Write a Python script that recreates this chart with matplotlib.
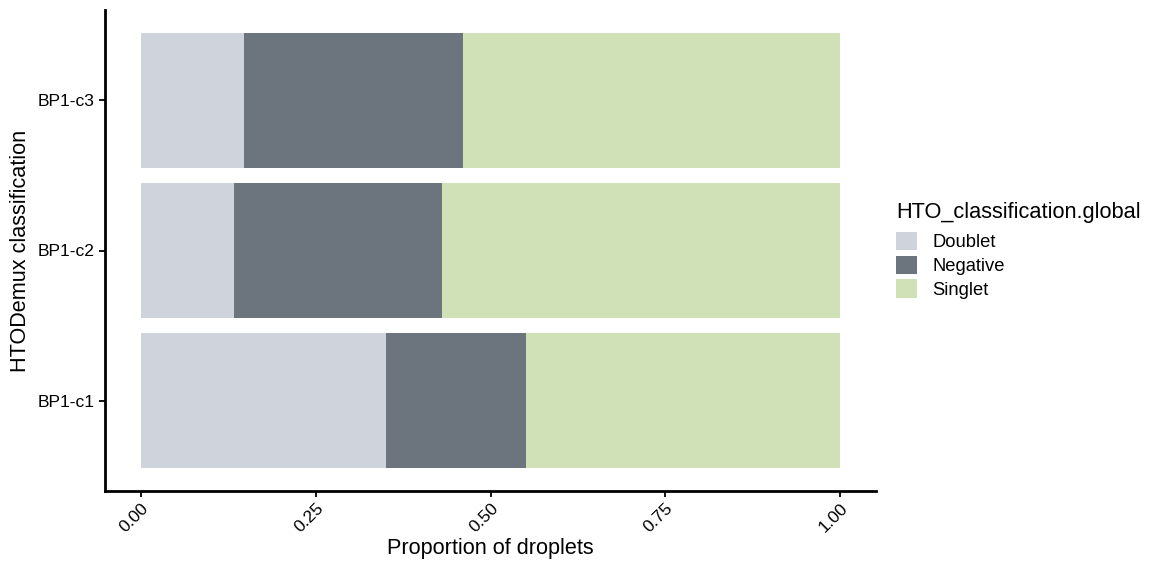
import matplotlib.pyplot as plt
import numpy as np
from matplotlib.patches import Patch

plt.rcParams['font.family'] = ['Liberation Sans', 'DejaVu Sans']

samples = ["BP1-c1", "BP1-c2", "BP1-c3"]
classes = ["Doublet", "Negative", "Singlet"]
doublet = [0.351, 0.133, 0.147]
negative = [0.200, 0.297, 0.314]
singlet = [0.449, 0.570, 0.539]
colors = ["#CFD3DB", "#6C747E", "#D0E1B8"]


def main():
    data = np.array([doublet, negative, singlet])
    fig = plt.figure(figsize=(11.52, 5.76), dpi=100)
    ax = fig.add_axes([105 / 1152, 1 - 491 / 576, 771 / 1152, 481 / 576])

    y = np.arange(1, len(samples) + 1)
    left = np.zeros(len(samples))
    for i, name in enumerate(classes):
        ax.barh(y, data[i], left=left, height=0.9, color=colors[i], label=name)
        left += data[i]

    ax.set_xlim(-0.0514, 1.0514)
    ax.set_ylim(0.4, 3.6)
    ax.set_yticks(y)
    ax.set_yticklabels(samples)
    ax.set_xticks([0, 0.25, 0.5, 0.75, 1.0])
    ax.set_xticklabels(["0.00", "0.25", "0.50", "0.75", "1.00"], rotation=45,
                       ha="right", va="top", rotation_mode="anchor")
    ax.tick_params(axis="both", labelsize=12.6, colors="black", width=1.3, length=4)
    ax.tick_params(axis="x", pad=3)
    for s in ["top", "right"]:
        ax.spines[s].set_visible(False)
    for s in ["left", "bottom"]:
        ax.spines[s].set_linewidth(2)
    ax.set_xlabel("Proportion of droplets", fontsize=15.6, labelpad=2)
    ax.set_ylabel("HTODemux classification", fontsize=15.6, labelpad=5)

    handles = [Patch(facecolor=c, edgecolor="none") for c in colors]
    leg = fig.legend(handles, classes, title="HTO_classification.global",
                     loc="upper left", bbox_to_anchor=(889 / 1152, 1 - 195 / 576),
                     frameon=False, fontsize=13.2, title_fontsize=15.7,
                     handlelength=1.15, handleheight=1.15, handletextpad=0.8,
                     labelspacing=0.25, borderaxespad=0)
    leg._legend_box.align = "left"
    leg._legend_box.sep = 6

    fig.savefig("out.png", dpi=100)


if __name__ == "__main__":
    main()
